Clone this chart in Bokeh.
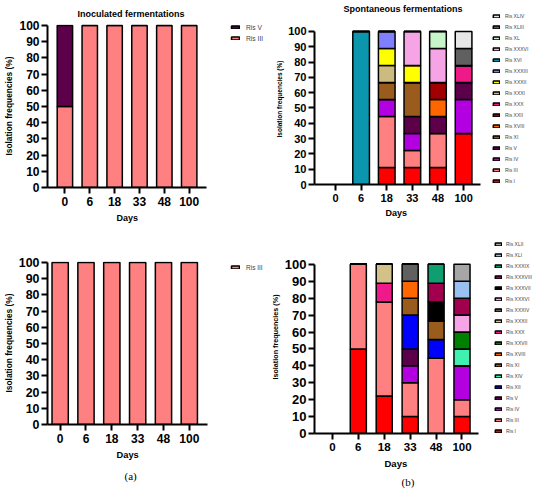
from bokeh.plotting import figure
from bokeh.models import Range1d, FixedTicker, Legend, LegendItem, Title, ColumnDataSource
from bokeh.layouts import row, column
from bokeh.embed import file_html
from bokeh.resources import INLINE

nan = float("nan")  # no isolates on that day: no bar drawn
days = ["0", "6", "18", "33", "48", "100"]

# ---- (a) top: inoculated fermentations ----
a1_species = ["Ris III", "Ris V"]
a1_ris_iii = [50, 100, 100, 100, 100, 100]
a1_ris_v = [50, 0, 0, 0, 0, 0]

# ---- (a) bottom ----
a2_species = ["Ris III"]
a2_ris_iii = [100, 100, 100, 100, 100, 100]

# ---- (b) top: spontaneous fermentations ----
b1_species = ["Ris I", "Ris III", "Ris IV", "Ris V", "Ris XI", "Ris XVIII", "Ris XXII",
              "Ris XXX", "Ris XXXI", "Ris XXXII", "Ris XXXIII", "Ris XVI", "Ris XXXVI",
              "Ris XL", "Ris XLIII", "Ris XLIV"]
b1_ris_i = [nan, 0, 11.11, 11.11, 11.11, 33.33]
b1_ris_iii = [nan, 0, 33.33, 11.11, 22.22, 0]
b1_ris_iv = [nan, 0, 11.11, 11.11, 0, 22.22]
b1_ris_v = [nan, 0, 0, 11.11, 11.11, 11.11]
b1_ris_xi = [nan, 0, 11.11, 22.22, 0, 0]
b1_ris_xviii = [nan, 0, 0, 0, 11.11, 0]
b1_ris_xxii = [nan, 0, 0, 0, 11.11, 0]
b1_ris_xxx = [nan, 0, 0, 0, 0, 11.11]
b1_ris_xxxi = [nan, 0, 11.11, 0, 0, 0]
b1_ris_xxxii = [nan, 0, 11.11, 11.11, 0, 0]
b1_ris_xxxiii = [nan, 0, 11.11, 0, 0, 0]
b1_ris_xvi = [nan, 100, 0, 0, 0, 0]
b1_ris_xxxvi = [nan, 0, 0, 22.22, 22.22, 0]
b1_ris_xl = [nan, 0, 0, 0, 11.11, 0]
b1_ris_xliii = [nan, 0, 0, 0, 0, 11.11]
b1_ris_xliv = [nan, 0, 0, 0, 0, 11.11]

# ---- (b) bottom ----
b2_species = ["Ris I", "Ris III", "Ris IV", "Ris V", "Ris XII", "Ris XIV", "Ris XI",
              "Ris XVIII", "Ris XXVII", "Ris XXX", "Ris XXXII", "Ris XXXIV", "Ris XXXVI",
              "Ris XXXVII", "Ris XXXVIII", "Ris XXXIX", "Ris XLI", "Ris XLII"]
b2_ris_i = [nan, 50, 22.22, 10, 0, 10]
b2_ris_iii = [nan, 50, 55.56, 20, 44.44, 10]
b2_ris_iv = [nan, 0, 0, 10, 0, 20]
b2_ris_v = [nan, 0, 0, 10, 0, 0]
b2_ris_xii = [nan, 0, 0, 20, 11.11, 0]
b2_ris_xiv = [nan, 0, 0, 0, 0, 10]
b2_ris_xi = [nan, 0, 0, 10, 11.11, 0]
b2_ris_xviii = [nan, 0, 0, 10, 0, 0]
b2_ris_xxvii = [nan, 0, 0, 0, 0, 10]
b2_ris_xxx = [nan, 0, 11.11, 0, 0, 0]
b2_ris_xxxii = [nan, 0, 11.11, 0, 0, 0]
b2_ris_xxxiv = [nan, 0, 0, 10, 0, 0]
b2_ris_xxxvi = [nan, 0, 0, 0, 0, 10]
b2_ris_xxxvii = [nan, 0, 0, 0, 11.11, 0]
b2_ris_xxxviii = [nan, 0, 0, 0, 11.11, 10]
b2_ris_xxxix = [nan, 0, 0, 0, 11.11, 0]
b2_ris_xli = [nan, 0, 0, 0, 0, 10]
b2_ris_xlii = [nan, 0, 0, 0, 0, 10]

colors = {
    "Ris I": "#FF0000", "Ris III": "#FF8080", "Ris IV": "#B200E0", "Ris V": "#5C004A",
    "Ris XI": "#9A5C1C", "Ris XVIII": "#FF6600", "Ris XXII": "#A00000", "Ris XXX": "#EE1A8A",
    "Ris XXXI": "#CDBA80", "Ris XXXIII": "#8080FF", "Ris XVI": "#0B96AD",
    "Ris XXXVI": "#F5A5E5", "Ris XL": "#C8F5C8", "Ris XLIII": "#606060", "Ris XLIV": "#E6E6E6",
    "Ris XII": "#0000FF", "Ris XIV": "#40F0B0", "Ris XXVII": "#008000", "Ris XXXIV": "#606060",
    "Ris XXXVII": "#000000", "Ris XXXVIII": "#A0004E", "Ris XXXIX": "#0E9E70",
    "Ris XLI": "#9AC0F2", "Ris XLII": "#A6A6A6",
}
b1_colors = dict(colors, **{"Ris XXXII": "#FFFF00"})
b2_colors = dict(colors, **{"Ris XXXII": "#D2C28A"})

FONT = "Liberation Sans"


def make_panel(species, series, cols, width, height, borders, xr, x_end, y_end, bar_w,
               ytick, xtick, ylab, leg_font, leg_item_h, leg_glyph_w, leg_glyph_h,
               leg_spacing, leg_standoff, leg_loc, days_size, days_offset, days_standoff,
               title=None, title_offset=0, title_standoff=0,
               tag=None, tag_standoff=0, tag_offset=0):
    left, right, top, bottom = borders
    p = figure(width=width, height=height, output_backend="svg", toolbar_location=None,
               x_range=Range1d(xr[0], x_end), y_range=Range1d(0, y_end),
               min_border_left=left, min_border_right=right,
               min_border_top=top, min_border_bottom=bottom)
    data = {"x": list(range(len(days)))}
    for s, v in zip(species, series):
        data[s] = v
    src = ColumnDataSource(data)
    fills = [cols[s] for s in species]
    rends = p.vbar_stack(species, x="x", width=bar_w, source=src, fill_color=fills,
                         line_color="black", line_width=1.5)
    items = [LegendItem(label=s, renderers=[r]) for s, r in zip(species, rends)][::-1]
    leg = Legend(items=items, location=leg_loc, orientation="vertical", padding=0, margin=0,
                 spacing=leg_spacing, glyph_width=leg_glyph_w, glyph_height=leg_glyph_h,
                 label_height=leg_item_h, label_width=10, label_standoff=leg_standoff,
                 label_text_font=FONT, label_text_font_size=leg_font,
                 label_text_color="#444444", border_line_color=None,
                 background_fill_alpha=0)
    p.add_layout(leg, "center")

    p.xgrid.visible = False
    p.ygrid.visible = False
    p.outline_line_color = None
    p.xaxis.ticker = FixedTicker(ticks=list(range(len(days))))
    p.xaxis.major_label_overrides = {i: d for i, d in enumerate(days)}
    p.xaxis.bounds = (xr[0], xr[1])
    p.yaxis.ticker = FixedTicker(ticks=list(range(0, 101, 10)))
    p.yaxis.bounds = (0, 100)
    for ax in (p.xaxis[0], p.yaxis[0]):
        ax.axis_line_width = 2
        ax.axis_line_color = "black"
        ax.major_tick_line_width = 2
        ax.major_tick_line_color = "black"
        ax.major_tick_out = 6
        ax.major_tick_in = 0
        ax.minor_tick_line_color = None
        ax.major_label_text_font = FONT
        ax.major_label_text_font_style = "bold"
        ax.major_label_text_color = "black"
        ax.axis_label_text_font = FONT
        ax.axis_label_text_font_style = "bold"
        ax.axis_label_text_color = "black"
    p.yaxis.major_label_text_font_size = ytick
    p.xaxis.major_label_text_font_size = xtick
    p.yaxis.axis_label = "Isolation frequencies (%)"
    p.yaxis.axis_label_text_font_size = ylab
    p.yaxis.major_label_standoff = 2
    p.yaxis.axis_label_standoff = 2
    p.xaxis.major_label_standoff = 3

    # x axis title, placed under the tick labels
    p.add_layout(Title(text="Days", align="left", offset=days_offset, standoff=days_standoff,
                       text_font=FONT, text_font_size=days_size, text_font_style="bold",
                       text_color="black"), "below")

    if title:
        p.title.text = title
        p.title.align = "left"
        p.title.offset = title_offset
        p.title.standoff = title_standoff
        p.title.text_font = FONT
        p.title.text_font_size = "9px"
        p.title.text_font_style = "bold"
        p.title.text_color = "black"
    if tag:
        p.add_layout(Title(text=tag, align="left", offset=tag_offset, standoff=tag_standoff,
                           text_font="Liberation Serif", text_font_size="11px",
                           text_font_style="normal", text_color="black"), "below")
    return p


tl = make_panel(a1_species, [a1_ris_iii, a1_ris_v], colors, 267, 240, (39, 2, 23, 53),
                (-0.70, 5.70), 8.07, 100.6, 0.62, "12px", "12px", "8.4px",
                "6.7px", 8, 10, 4, 3, 6, (183, 145), "9px", 69, 4,
                title="Inoculated fermentations", title_offset=30, title_standoff=12)

tr = make_panel(b1_species,
                [b1_ris_i, b1_ris_iii, b1_ris_iv, b1_ris_v, b1_ris_xi, b1_ris_xviii, b1_ris_xxii,
                 b1_ris_xxx, b1_ris_xxxi, b1_ris_xxxii, b1_ris_xxxiii, b1_ris_xvi, b1_ris_xxxvi,
                 b1_ris_xl, b1_ris_xliii, b1_ris_xliv],
                b1_colors, 267, 240, (47, 2, 13, 56),
                (-0.82, 5.66), 7.69, 111.76, 0.65, "11px", "11px", "6.5px",
                "5px", 6, 8, 4, 5, 5, (178, 0), "9px", 71, 3,
                title="Spontaneous fermentations", title_offset=29, title_standoff=0)

bl = make_panel(a2_species, [a2_ris_iii], colors, 267, 250, (39, 2, 21, 66),
                (-0.49, 5.71), 7.95, 100.6, 0.63, "12.4px", "12px", "8.4px",
                "6.5px", 8, 10, 4, 3, 6, (183, 153), "9.3px", 69, 4,
                tag="(a)", tag_standoff=12, tag_offset=77)

br = make_panel(b2_species,
                [b2_ris_i, b2_ris_iii, b2_ris_iv, b2_ris_v, b2_ris_xii, b2_ris_xiv, b2_ris_xi,
                 b2_ris_xviii, b2_ris_xxvii, b2_ris_xxx, b2_ris_xxxii, b2_ris_xxxiv,
                 b2_ris_xxxvi, b2_ris_xxxvii, b2_ris_xxxviii, b2_ris_xxxix, b2_ris_xli,
                 b2_ris_xlii],
                b2_colors, 267, 250, (47, 1, 0, 56),
                (-0.69, 5.65), 7.72, 114.1, 0.62, "13px", "11.5px", "7.2px",
                "5px", 6, 8, 4, 5, 4, (180, -1), "9.5px", 70, 4,
                tag="(b)", tag_standoff=6, tag_offset=87)

layout = row(column(tl, bl), column(tr, br))
open("out.html", "w").write(file_html(layout, INLINE))
